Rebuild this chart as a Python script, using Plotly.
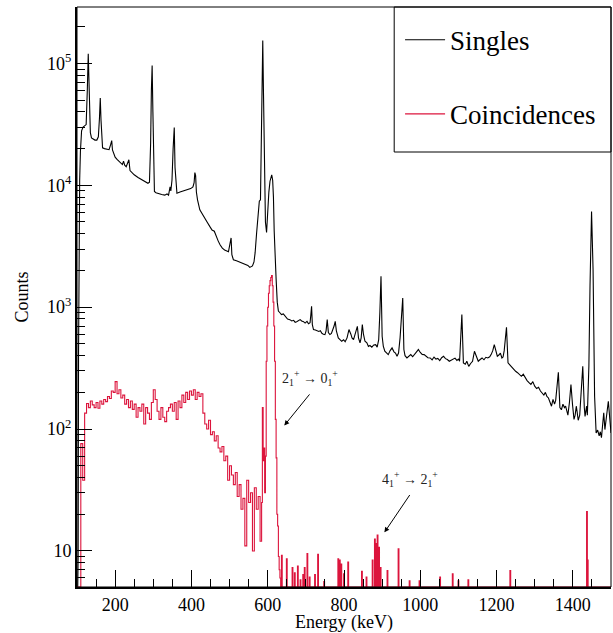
import numpy as np
import plotly.graph_objects as go

# ---------------- data ----------------
singles_energy = [
    101, 103, 104, 105, 107, 109, 112, 116, 120, 124, 127, 129.5, 131, 133, 135, 138,
    142, 147, 152, 156, 159, 161, 163, 165, 167, 172, 178, 184, 188, 191, 193, 196,
    200, 205, 210, 215, 219, 222, 225, 229, 233, 236, 239, 243, 250, 260, 270, 279,
    286, 290, 293, 295, 297, 299, 301, 303, 307, 315, 322, 330, 336, 340, 344, 346,
    349, 352, 355, 357, 360, 362, 370, 380, 390, 398, 404, 407, 409, 411, 413, 416,
    422, 428, 435, 441, 448, 454, 460, 466, 470, 475, 481, 487, 492, 497, 501, 504,
    506, 510, 518, 526, 534, 541, 548, 553, 556, 560, 564, 567, 571, 575, 578, 581,
    583, 585, 587, 589, 591, 594, 597, 600, 603, 606, 608, 610.5, 613, 615, 617, 619,
    622, 625, 628, 632, 636, 641, 646, 652, 658, 663, 668, 672, 676, 681, 685, 689,
    694, 698, 703, 707, 711, 713, 715, 717, 720, 725, 730, 734, 738, 742, 746, 750,
    753, 756, 759, 763, 767, 771, 774, 777, 780, 785, 790, 794, 799, 803, 808, 813,
    818, 821, 825, 829, 833, 835, 838, 842, 845, 848, 851, 855, 860, 864, 868, 873,
    878, 883, 887, 891, 894, 897, 900, 903, 907, 911, 916, 921, 926, 931, 935, 939,
    943, 947, 950, 954, 957, 960, 965, 970, 975, 980, 985, 990, 995, 1000, 1005, 1010,
    1015, 1020, 1026, 1031, 1036, 1041, 1046, 1051, 1056, 1061, 1066, 1071, 1076, 1081,
    1086, 1091, 1096, 1100, 1103, 1106, 1109, 1113, 1118, 1122, 1127, 1132, 1137, 1142,
    1147, 1152, 1157, 1162, 1167, 1172, 1177, 1182, 1186, 1190, 1194, 1198, 1202, 1206,
    1210, 1214, 1217, 1220, 1223, 1226, 1230, 1235, 1240, 1245, 1250, 1255, 1260, 1265,
    1270, 1275, 1280, 1285, 1290, 1295, 1300, 1305, 1310, 1315, 1320, 1324, 1328, 1332,
    1336, 1340, 1344, 1348, 1352, 1355, 1358, 1362, 1366, 1370, 1374, 1378, 1381, 1384,
    1387, 1391, 1395, 1399, 1403, 1406, 1409, 1411, 1414, 1418, 1422, 1426, 1430, 1432,
    1434, 1436, 1438, 1440, 1442, 1445, 1449, 1453, 1457, 1461, 1465, 1469, 1472, 1475,
    1478, 1481, 1484, 1487, 1490, 1493, 1497, 1500,
]
singles_counts = [
    3, 9, 400, 1600, 11000, 19000, 28000, 30000, 30500, 31500, 60000, 120000, 80000, 40000, 27000, 24500,
    24000, 23500, 23500, 25000, 36000, 52000, 34000, 21000, 20300, 20000, 19800, 19600, 21500, 23300, 19500, 18500,
    17000, 16300, 15800, 15300, 14800, 15800, 14600, 14200, 15500, 16200, 13200, 12800, 12200, 11600, 11100, 10700,
    10400, 10600, 22000, 60000, 96000, 40000, 14000, 8900, 8700, 8500, 8400, 8300, 8500, 8300, 9700, 9000,
    11000, 20000, 29800, 14000, 8700, 8600, 8800, 9000, 9200, 9400, 9700, 10500, 12700, 12000, 8800, 7600,
    6300, 5800, 5400, 5000, 4600, 4300, 4200, 3700, 3500, 3250, 3050, 2950, 2900, 2850, 3300, 3700,
    2700, 2450, 2400, 2350, 2300, 2250, 2200, 2120, 2150, 2180, 2350, 2800, 4100, 5600, 7400, 7600,
    30000, 90000, 154000, 55000, 18000, 5000, 4100, 6500, 8800, 10800, 11800, 12200, 11000, 8000, 4200, 2600,
    1700, 1100, 930, 900, 870, 880, 840, 800, 790, 770, 780, 750, 760, 775, 790, 770,
    760, 740, 765, 730, 745, 860, 1016, 720, 655, 650, 640, 632, 640, 610, 600, 596,
    640, 790, 620, 596, 610, 650, 700, 765, 640, 560, 545, 525, 540, 520, 560, 655,
    600, 560, 542, 600, 660, 697, 560, 509, 560, 720, 600, 525, 510, 477, 485, 470,
    490, 493, 470, 542, 900, 1790, 577, 480, 435, 420, 408, 440, 463, 430, 420, 396,
    420, 560, 790, 1190, 449, 400, 383, 395, 408, 392, 410, 430, 449, 425, 410, 408,
    395, 385, 383, 370, 390, 375, 380, 365, 385, 396, 378, 372, 360, 368, 372, 382,
    366, 375, 360, 520, 870, 349, 340, 360, 327, 345, 360, 435, 400, 360, 372, 383,
    370, 388, 383, 392, 410, 440, 493, 430, 396, 405, 420, 383, 390, 440, 540, 684,
    349, 335, 320, 310, 298, 290, 280, 271, 282, 262, 250, 240, 232, 245, 225, 215,
    220, 205, 198, 190, 200, 185, 180, 165, 154, 175, 160, 172, 220, 292, 150, 144,
    160, 150, 154, 140, 130, 165, 232, 160, 120, 130, 154, 140, 118, 130, 200, 327,
    150, 127, 140, 154, 130, 200, 327, 1500, 6100, 2030, 186, 93, 98, 88, 95, 85, 110, 136,
    99, 120, 150, 169, 120, 93, 96, 88,
]

coinc_energy = [
    100, 110, 115, 120, 125, 130, 135, 140, 145, 150, 155, 160, 165, 170, 175, 180,
    185, 190, 195, 200, 205, 210, 215, 220, 225, 230, 235, 240, 245, 250, 255, 260,
    265, 270, 275, 280, 285, 290, 295, 300, 305, 310, 315, 320, 325, 330, 335, 340,
    345, 350, 355, 360, 365, 370, 375, 380, 385, 390, 395, 400, 405, 410, 415, 420,
    425, 430, 435, 440, 445, 450, 455, 460, 465, 470, 475, 480, 485, 490, 495, 500,
    505, 510, 515, 520, 525, 530, 535, 540, 545, 550, 555, 560, 565, 570, 575, 580,
    584, 586, 588, 590, 592, 594, 596, 598, 600, 602, 604, 606, 608, 610, 612, 614,
    616, 618, 620, 622, 624, 626, 628, 630, 632, 634,
]
coinc_counts = [
    0, 76, 38, 135, 162, 150, 170, 158, 150, 165, 148, 170, 160, 175, 168, 185,
    178, 205, 200, 245, 195, 210, 180, 190, 160, 175, 150, 170, 145, 160, 125, 150,
    140, 160, 110, 150, 135, 120, 165, 210, 175, 140, 120, 150, 125, 115, 140, 150,
    160, 140, 165, 120, 170, 150, 190, 165, 200, 175, 205, 190, 210, 175, 200, 185,
    195, 135, 110, 100, 118, 90, 95, 80, 88, 70, 65, 72, 55, 60, 38, 50,
    42, 35, 44, 28, 35, 22, 27, 11, 38, 25, 30, 10, 33, 22, 28, 12,
    25, 150, 55, 70, 30, 60, 360, 700, 1000, 1300, 1500, 1650, 1750, 1820, 1500, 1100,
    700, 360, 120, 58, 20, 16, 9, 7, 6, 0,
]

# isolated single-bin counts above the 2+ -> 0+ peak
spike_energy = [
    637, 650, 665, 671, 679, 686, 693, 697, 704, 710, 724, 732, 748, 785, 789, 793,
    800, 811, 847, 859, 875, 881, 884, 888, 892, 896, 914, 943, 972, 998, 1052, 1085,
    1100, 1126, 1236, 1437, 1439,
]
spike_counts = [
    9.2, 8.6, 7.3, 6.6, 7.5, 5.8, 6.4, 7.3, 9.5, 6.1, 6.4, 9.4, 5.6, 8.6, 8.4, 7.8,
    6.5, 8.1, 6.8, 6.1, 8.4, 12.5, 11.5, 13.5, 10.7, 7.3, 6.9, 10.4, 5.7, 5.7, 6.1, 6.5,
    5.7, 5.8, 6.9, 21, 8.4,
]

x_tick_values = [200, 400, 600, 800, 1000, 1200, 1400]
y_tick_values = [10, 100, 1000, 10000, 100000]
y_tick_labels = ["10", "10<sup>2</sup>", "10<sup>3</sup>", "10<sup>4</sup>", "10<sup>5</sup>"]

x_range = [100, 1500]
y_log_range = [0.704, 5.463]

FONT = "Liberation Serif"
RED = "#dc143c"

# ---------------- build coincidence histogram path ----------------
floor = 10 ** y_log_range[0]
cx = list(coinc_energy)
cy = [c if c > 0 else floor for c in coinc_counts]
for e, c in zip(spike_energy, spike_counts):
    cx += [e - 1, e + 1]
    cy += [c, floor]
cx.append(x_range[1])
cy.append(floor)

fig = go.Figure()
fig.add_trace(go.Scatter(
    x=singles_energy, y=singles_counts, mode="lines", name="Singles",
    line=dict(color="black", width=1.1), legendgroup="a",
))
fig.add_trace(go.Scatter(
    x=cx, y=cy, mode="lines", name="Coincidences", line_shape="hv",
    line=dict(color=RED, width=1.1), legendgroup="b",
))

minor_y = [m * 10 ** k for k in range(0, 6) for m in range(2, 10)]

fig.update_layout(
    width=613, height=633,
    margin=dict(l=77, r=2, t=7, b=46),
    paper_bgcolor="white", plot_bgcolor="white",
    font=dict(family=FONT, size=18, color="black"),
    showlegend=True,
    legend=dict(
        x=0.605, y=0.985, xanchor="left", yanchor="top",
        bgcolor="rgba(0,0,0,0)", borderwidth=0,
        font=dict(family=FONT, size=27, color="black"),
        tracegroupgap=36, itemwidth=40,
    ),
    xaxis=dict(
        range=x_range, tickmode="array", tickvals=x_tick_values,
        ticks="inside", ticklen=17, tickwidth=1, tickcolor="black",
        showline=True, linewidth=2, linecolor="black", mirror=False,
        showgrid=False, zeroline=False, automargin=False,
        minor=dict(ticks="inside", ticklen=8, dtick=50, tick0=0, tickcolor="black", showgrid=False),
        title=dict(text="Energy (keV)", font=dict(family=FONT, size=18), standoff=4),
        tickfont=dict(family=FONT, size=18),
    ),
    yaxis=dict(
        type="log", range=y_log_range, tickmode="array",
        tickvals=y_tick_values, ticktext=y_tick_labels,
        ticks="inside", ticklen=15, tickwidth=1, tickcolor="black",
        showline=True, linewidth=2, linecolor="black", mirror=False,
        showgrid=False, zeroline=False, automargin=False,
        minor=dict(ticks="inside", ticklen=8, tickvals=minor_y, tickcolor="black", showgrid=False),
        title=dict(text="Counts", font=dict(family=FONT, size=18), standoff=14),
        tickfont=dict(family=FONT, size=18),
    ),
    shapes=[
        dict(type="rect", xref="paper", yref="paper", x0=0, x1=1, y0=0, y1=1,
             line=dict(color="black", width=1), layer="above"),
        dict(type="rect", xref="paper", yref="paper", x0=0.594, x1=1.0, y0=0.75, y1=1.0,
             line=dict(color="black", width=1), fillcolor="white", layer="below"),
    ],
)

def annot(text, head_e, head_c, tail_e, tail_c, text_e, text_c):
    return dict(
        x=head_e, y=np.log10(head_c), ax=tail_e, ay=np.log10(tail_c),
        xref="x", yref="y", axref="x", ayref="y",
        showarrow=True, arrowhead=2, arrowsize=1, arrowwidth=1, arrowcolor="black",
        text="", standoff=0,
    ), dict(
        x=text_e, y=np.log10(text_c), xref="x", yref="y", text=text, showarrow=False,
        font=dict(family=FONT, size=14, color="#222"),
    )

a1, t1 = annot("2<sub>1</sub><sup>+</sup> → 0<sub>1</sub><sup>+</sup>", 643.5, 107, 712.8, 198, 711, 263)
a2, t2 = annot("4<sub>1</sub><sup>+</sup> → 2<sub>1</sub><sup>+</sup>", 906, 14.2, 975, 29.6, 974, 39)
fig.update_layout(annotations=[a1, t1, a2, t2])

fig.write_html("out.html", config={"displayModeBar": False},
               post_script="document.body.style.margin='0';")
